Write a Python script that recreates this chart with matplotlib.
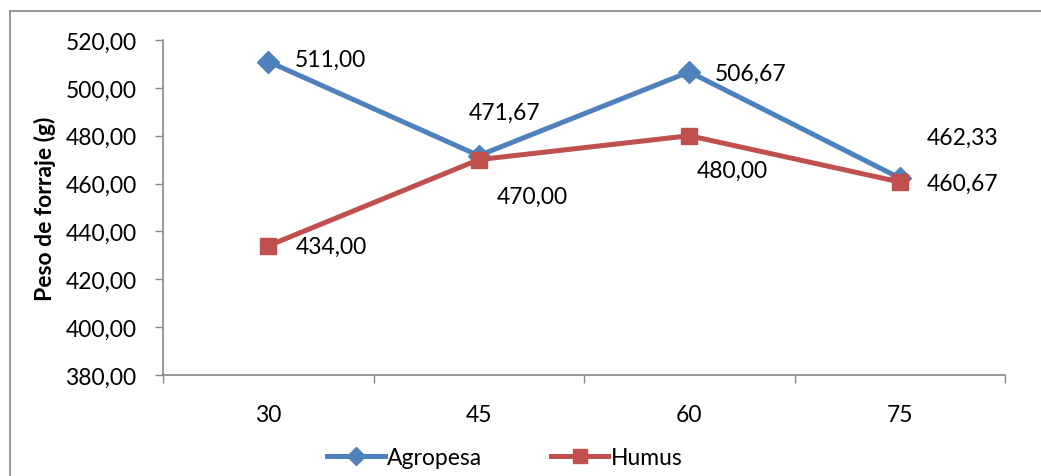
import numpy as np
import matplotlib
matplotlib.use('Agg')
import matplotlib.pyplot as plt
from matplotlib.lines import Line2D

plt.rcParams['font.family'] = ['Lato', 'DejaVu Sans']

# datos
dias = ['30', '45', '60', '75']
agropesa = [511.00, 471.67, 506.67, 462.33]
humus = [434.00, 470.00, 480.00, 460.67]
etiq_agro = ['511,00', '471,67', '506,67', '462,33']
etiq_humus = ['434,00', '470,00', '480,00', '460,67']
yticks = np.arange(380, 521, 20)

azul = '#4F81BD'
rojo = '#C0504D'
gris = '#868686'
fs = 16.5

fig = plt.figure(figsize=(10.41, 4.77), dpi=100)
ax = fig.add_axes([163/1041, 1 - 376/477, (1005-163)/1041, (376-41)/477])

x = np.arange(len(dias))
ax.plot(x, agropesa, color=azul, lw=3.6, marker='D', ms=11, label='Agropesa', zorder=3)
ax.plot(x, humus, color=rojo, lw=3.6, marker='s', ms=12, label='Humus', zorder=3)

# etiquetas de datos (desplazamiento en pixeles)
off_agro = [(27, 2), (26, 43), (26, -1), (27, 41)]
off_humus = [(27, -1), (18, -37), (7, -35), (27, -1)]
for i in range(len(dias)):
    ax.annotate(etiq_agro[i], (x[i], agropesa[i]), xytext=off_agro[i], textcoords='offset pixels',
                ha='left', va='center', fontsize=fs)
    ax.annotate(etiq_humus[i], (x[i], humus[i]), xytext=off_humus[i], textcoords='offset pixels',
                ha='left', va='center', fontsize=fs)
# 471,67 centrado sobre el punto
ax.texts[2].set_ha('center')

ax.set_xlim(-0.5, 3.5)
ax.set_ylim(380, 520)
ax.set_yticks(yticks)
ax.set_yticklabels([f'{v:.2f}'.replace('.', ',') for v in yticks])
ax.set_xticks(x)
ax.set_xticklabels(dias)
ax.set_xticks(np.arange(-0.5, 4, 1), minor=True)
ax.tick_params(axis='x', which='major', length=0, pad=21, labelsize=fs)
ax.tick_params(axis='x', which='minor', length=6, color=gris, width=1)
ax.tick_params(axis='y', length=6, color=gris, width=1, pad=13, labelsize=fs)

for s in ['top', 'right']:
    ax.spines[s].set_visible(False)
for s in ['left', 'bottom']:
    ax.spines[s].set_color(gris)
    ax.spines[s].set_linewidth(1.2)

ax.set_ylabel('Peso de forraje (g)', fontsize=fs, fontweight='bold')
ax.yaxis.set_label_coords(-0.127, 0.5)

ax.legend(loc='center', bbox_to_anchor=(0.406, -0.245), ncol=2, frameon=False, fontsize=fs,
          handlelength=2.5, handletextpad=0.1, columnspacing=3.0, markerscale=0.85)

# borde del grafico
fig.add_artist(Line2D([10/1041, 10/1041], [0, 1 - 12/477], color=gris, lw=1.2, transform=fig.transFigure))
fig.add_artist(Line2D([10/1041, 1], [1 - 12/477, 1 - 12/477], color=gris, lw=1.2, transform=fig.transFigure))

fig.savefig('out.png', dpi=100)
